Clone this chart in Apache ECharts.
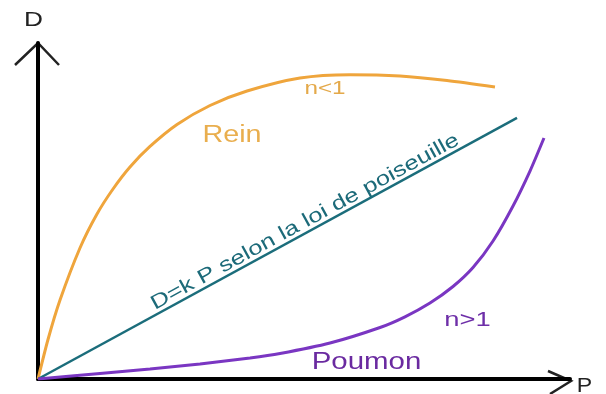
<!DOCTYPE html>
<html>
<head>
<meta charset="utf-8">
<script src="https://cdn.jsdelivr.net/npm/echarts@6/dist/echarts.min.js"></script>
<style>html,body{margin:0;padding:0;background:#fff;}#c{width:606px;height:394px;}</style>
</head>
<body>
<div id="c"></div>
<script>
// Rein (n<1) curve: pressure P vs flow D (arbitrary units 0-100)
const reinP = [0, 1.88, 4.14, 7.89, 11.09, 14.10, 17.29, 21.05, 26.13, 32.33, 39.29, 49.25, 58.65, 68.05, 76.88, 85.90];
const reinD = [0, 11.76, 23.51, 38.99, 49.11, 56.55, 63.10, 69.20, 75.74, 81.40, 85.71, 89.58, 90.57, 90.18, 88.84, 86.90];
// Poiseuille line D = kP
const poiseP = [0, 90.04];
const poiseD = [0, 77.7];
// Poumon (n>1) curve
const poumonP = [0, 11.65, 21.05, 30.45, 39.85, 45.49, 54.89, 64.29, 68.98, 73.68, 78.01, 81.77, 85.53, 89.29, 92.48, 95.11];
const poumonD = [0, 1.64, 2.98, 4.46, 6.25, 7.59, 10.71, 15.33, 18.51, 22.62, 27.53, 33.18, 41.07, 51.49, 61.90, 71.73];
// texts
const labels = {
  yName: 'D', xName: 'P', rein: 'Rein', reinN: 'n<1',
  poise: 'D=k P selon la loi de poiseuille', poumon: 'Poumon', poumonN: 'n>1'
};

const pairs = (xs, ys) => xs.map((x, i) => [x, ys[i]]);
const FF = '"Liberation Sans", Arial, sans-serif';
function txt(text, x, y, size, color, sx, rot) {
  return {
    type: 'text', x: x, y: y, scaleX: sx, rotation: rot || 0, silent: true,
    style: { text: text, fontSize: size, fontFamily: FF, fill: color, align: 'center', verticalAlign: 'middle' }
  };
}

const chart = echarts.init(document.getElementById('c'), null, { renderer: 'canvas' });
chart.setOption({
  backgroundColor: '#ffffff',
  animation: false,
  grid: { left: 38, right: 36, top: 43, bottom: 15 },
  xAxis: {
    type: 'value', min: 0, max: 100,
    axisLine: { show: true, onZero: false, lineStyle: { color: '#000', width: 4 } },
    axisTick: { show: false }, axisLabel: { show: false }, splitLine: { show: false }
  },
  yAxis: {
    type: 'value', min: 0, max: 100,
    axisLine: { show: true, onZero: false, lineStyle: { color: '#000', width: 4 } },
    axisTick: { show: false }, axisLabel: { show: false }, splitLine: { show: false }
  },
  series: [
    { type: 'line', data: pairs(reinP, reinD), smooth: 0.25, symbol: 'none',
      lineStyle: { color: '#EFA53C', width: 3 } },
    { type: 'line', data: pairs(poiseP, poiseD), symbol: 'none',
      lineStyle: { color: '#1B6D7B', width: 2.5 } },
    { type: 'line', data: pairs(poumonP, poumonD), smooth: 0.25, symbol: 'none',
      lineStyle: { color: '#7A36C2', width: 3 } }
  ],
  graphic: [
    { type: 'polyline', silent: true, shape: { points: [[15, 65], [38, 43], [59, 65]] },
      style: { stroke: '#222', lineWidth: 2.5, fill: null } },
    { type: 'polyline', silent: true, shape: { points: [[548, 371], [571, 381], [550, 394]] },
      style: { stroke: '#222', lineWidth: 2.5, fill: null } },
    txt(labels.yName, 33.5, 20, 21, '#222', 1.25),
    txt(labels.xName, 584.5, 386, 21, '#222', 1.1),
    txt(labels.rein, 232, 136, 23, '#E9AE4E', 1.25),
    txt(labels.reinN, 325, 89, 18, '#E4A94A', 1.35),
    txt(labels.poise, 305, 222, 20, '#1C6A79', 1.28, 28.6 * Math.PI / 180),
    txt(labels.poumonN, 467.5, 320, 20, '#6E2FA8', 1.37),
    txt(labels.poumon, 366.5, 363, 23, '#6A2AA0', 1.28)
  ]
});
</script>
</body>
</html>
